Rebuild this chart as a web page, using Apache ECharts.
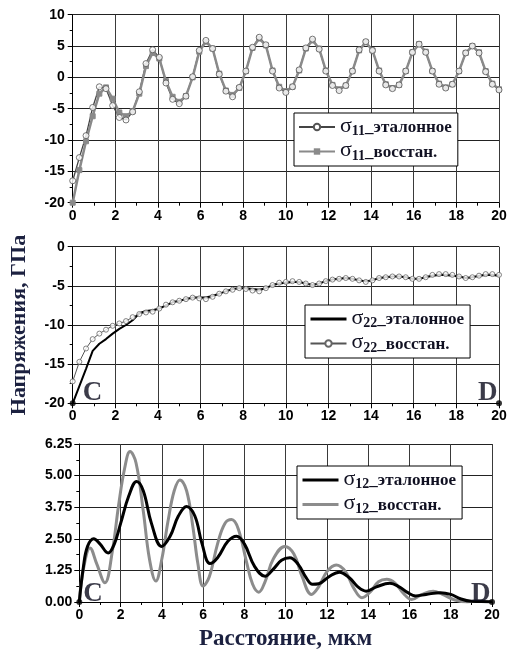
<!DOCTYPE html>
<html>
<head>
<meta charset="utf-8">
<script src="https://cdn.jsdelivr.net/npm/echarts@6/dist/echarts.min.js"></script>
<style>
  html, body { margin: 0; padding: 0; background: #fff; }
  #chart { width: 512px; height: 652px; }
</style>
</head>
<body>
<div id="chart"></div>
<script>
// координаты узлов (шаг 0.3125 мкм)
let xs = [0,0.3125,0.625,0.9375,1.25,1.5625,1.875,2.1875,2.5,2.8125,3.125,3.4375,3.75,4.0625,4.375,4.6875,
  5,5.3125,5.625,5.9375,6.25,6.5625,6.875,7.1875,7.5,7.8125,8.125,8.4375,8.75,9.0625,9.375,9.6875,
  10,10.3125,10.625,10.9375,11.25,11.5625,11.875,12.1875,12.5,12.8125,13.125,13.4375,13.75,14.0625,14.375,14.6875,
  15,15.3125,15.625,15.9375,16.25,16.5625,16.875,17.1875,17.5,17.8125,18.125,18.4375,18.75,19.0625,19.375,19.6875,20];

// σ11
let s11Ref = [-16.5,-12.8,-9.3,-4.8,-1.5,-1.8,-4.5,-6.4,-6.8,-5.5,-2.3,2.2,4.4,3.2,-0.9,-3.5,
  -4.2,-3.0,0.1,4.3,5.9,4.6,0.5,-2.2,-3.1,-1.6,1.0,4.8,6.4,5.2,1.0,-1.7,
  -2.4,-1.5,1.2,4.7,6.1,4.5,1.0,-1.3,-2.1,-1.3,1.0,4.4,5.7,4.3,1.0,-1.2,
  -1.8,-1.2,1.0,4.0,5.3,4.0,1.0,-1.1,-1.7,-1.1,1.0,3.9,5.0,3.9,0.9,-1.1,-2.0];
let s11Rec = [-20,-14.8,-10.2,-6.2,-2.6,-1.6,-3.4,-5.6,-6.2,-5.4,-2.6,1.8,3.9,3.0,-0.6,-3.1,
  -3.9,-3.0,0.0,4.1,5.7,4.6,0.6,-2.1,-2.8,-1.7,1.0,4.7,6.2,5.1,1.1,-1.5,
  -2.2,-1.5,1.1,4.6,5.9,4.6,1.1,-1.2,-1.9,-1.3,1.0,4.3,5.6,4.3,1.1,-1.1,
  -1.7,-1.2,1.0,4.0,5.3,4.1,1.0,-1.0,-1.6,-1.1,1.0,3.9,5.0,4.0,1.0,-1.0,-1.9];

// σ22
let s22Ref = [-20,-17.8,-15.6,-13.3,-12.4,-11.8,-11.1,-10.5,-10.0,-9.4,-8.5,-8.2,-8.1,-7.9,-7.5,-7.1,
  -6.9,-6.7,-6.5,-6.5,-6.5,-6.3,-6.0,-5.7,-5.4,-5.3,-5.3,-5.4,-5.5,-5.3,-4.9,-4.7,
  -4.6,-4.5,-4.5,-4.7,-4.9,-4.7,-4.4,-4.2,-4.1,-4.0,-4.1,-4.3,-4.4,-4.3,-4.0,-3.9,
  -3.8,-3.8,-3.9,-4.1,-4.1,-3.9,-3.7,-3.6,-3.6,-3.7,-3.8,-4.0,-3.9,-3.7,-3.6,-3.6,-3.7];
let s22Rec = [-17.2,-14.7,-13.0,-11.8,-11.1,-10.6,-10.1,-9.8,-9.5,-9.0,-8.6,-8.4,-8.3,-7.9,-7.4,-7.1,
  -6.9,-6.7,-6.5,-6.6,-6.7,-6.4,-6.0,-5.7,-5.5,-5.3,-5.4,-5.6,-5.7,-5.3,-4.9,-4.6,
  -4.5,-4.4,-4.5,-4.7,-4.9,-4.7,-4.4,-4.2,-4.1,-4.0,-4.1,-4.3,-4.5,-4.3,-4.0,-3.9,
  -3.8,-3.8,-3.9,-4.1,-4.1,-3.9,-3.6,-3.5,-3.5,-3.6,-3.8,-4.0,-3.9,-3.7,-3.5,-3.5,-3.6];

// σ12 (x, y)
let s12Ref = [[0,0],[0.2,1.4],[0.4,2.2],[0.7,2.5],[1.0,2.3],[1.4,1.94],[1.7,2.3],[2.0,3.1],[2.4,4.2],[2.78,4.77],
  [3.1,4.4],[3.5,3.1],[3.99,2.2],[4.4,2.6],[4.8,3.4],[5.2,3.78],[5.6,3.4],[5.95,2.3],[6.33,1.52],[6.7,1.75],
  [7.2,2.4],[7.62,2.6],[8.0,2.3],[8.5,1.4],[9.0,1.02],[9.4,1.3],[9.8,1.65],[10.2,1.75],[10.6,1.5],[11.0,0.95],
  [11.3,0.7],[11.6,0.72],[12.1,1.0],[12.6,1.18],[13.1,0.95],[13.5,0.6],[13.9,0.43],[14.4,0.6],[15.05,0.74],
  [15.5,0.6],[15.9,0.38],[16.3,0.24],[16.8,0.3],[17.5,0.37],[18.0,0.3],[18.5,0.12],[19.0,0.03],[19.5,0.02],[20,0]];
let s12Rec = [[0,0],[0.2,1.3],[0.52,2.14],[0.85,1.5],[1.24,0.76],[1.6,2.0],[1.9,3.8],[2.2,5.3],[2.46,5.95],[2.75,5.5],
  [3.1,3.6],[3.4,1.7],[3.71,0.83],[4.0,1.7],[4.3,3.2],[4.6,4.4],[4.88,4.83],[5.2,4.4],[5.5,3.0],[5.75,1.5],
  [6.0,0.63],[6.3,1.0],[6.7,2.3],[7.05,3.1],[7.38,3.26],[7.7,2.9],[8.1,1.6],[8.4,0.7],[8.7,0.39],[9.0,0.8],
  [9.4,1.7],[9.96,2.2],[10.4,1.9],[10.8,1.0],[11.25,0.3],[11.6,0.6],[12.0,1.2],[12.45,1.46],[12.9,1.2],[13.3,0.55],
  [13.7,0.17],[14.1,0.4],[14.5,0.8],[14.9,0.9],[15.3,0.75],[15.7,0.35],[16.1,0.1],[16.6,0.3],[17.15,0.43],
  [17.6,0.3],[18.2,0.08],[18.8,0.0],[19.3,0.05],[20,0]];

// точки C и D
let cdMid = [[0,-20,'C'],[20,-20,'D']];
let cdBot = [[0,0,'C'],[20,0,'D']];

let pairs = function(x, y) {
  return x.map(function(v, i) { return [v, y[i]]; });
}

let tickFont = { color: '#000', fontFamily: 'Liberation Sans, Arial', fontWeight: 'bold', fontSize: 14 };
let serif = 'Liberation Serif, Times New Roman, serif';
let titleColor = '#1c2140';
let noMark = { color: 'rgba(0,0,0,0)', borderColor: 'rgba(0,0,0,0)', borderWidth: 0 };

/** x ось */
let xAxis = function(idx, extra) {
  return Object.assign({
    gridIndex: idx, type: 'value', min: 0, max: 20, interval: 2,
    axisLine: { show: true, onZero: false, lineStyle: { color: '#000', width: 1 } },
    axisTick: { show: true, inside: false, length: 5, lineStyle: { color: '#000' } },
    minorTick: { show: true, splitNumber: 2, length: 3, lineStyle: { color: '#000' } },
    axisLabel: Object.assign({ margin: 6 }, tickFont),
    splitLine: { show: true, lineStyle: { color: '#3a3a3a', width: 1 } }
  }, extra || {});
}
/** y ось */
let yAxis = function(idx, min, max, step, extra) {
  return Object.assign({
    gridIndex: idx, type: 'value', min: min, max: max, interval: step,
    axisLine: { show: true, onZero: false, lineStyle: { color: '#000', width: 1 } },
    axisTick: { show: true, inside: false, length: 5, lineStyle: { color: '#000' } },
    minorTick: { show: true, splitNumber: 2, length: 3, lineStyle: { color: '#000' } },
    axisLabel: Object.assign({ margin: 8 }, tickFont),
    splitLine: { show: true, lineStyle: { color: '#222', width: 1 } }
  }, extra || {});
}
/** легенда */
let legend = function(names, left, top) {
  return {
    data: names, left: left, top: top, orient: 'vertical',
    backgroundColor: '#fff', borderColor: '#000', borderWidth: 1,
    padding: [2, 6, 3, 4], itemGap: 1, itemWidth: 36, itemHeight: 8,
    selectedMode: false,
    formatter: function(name) {
      let m = name.match(/^σ(\d+)(_.*)$/);
      return '{s|σ}{sub|' + m[1] + '}{t|' + m[2] + '}';
    },
    textStyle: {
      color: '#111122',
      rich: {
        s: { fontFamily: serif, fontSize: 22, color: '#111122', padding: [0, 0, 2, 0] },
        sub: { fontFamily: serif, fontWeight: 'bold', fontSize: 14, color: '#111122', padding: [9, 0, 0, 0] },
        t: { fontFamily: serif, fontWeight: 'bold', fontSize: 17, color: '#111122', padding: [2, 0, 0, 0] }
      }
    }
  }
}
/** точки C, D */
let cdSeries = function(idx, data, dxC, dxD, dy) {
  return {
    type: 'scatter', xAxisIndex: idx, yAxisIndex: idx, data: data,
    symbol: 'circle', symbolSize: 6, itemStyle: { color: '#000' }, z: 10,
    label: {
      show: true, fontFamily: serif, fontWeight: 'bold', fontSize: 27, color: '#0a0a1c',
      formatter: function(p) { return p.data[2]; }
    },
    labelLayout: function(params) {
      let c = params.rect;
      let isC = params.text === 'C';
      return {
        x: isC ? c.x + 3 + dxC : c.x + 3 + dxD,
        y: c.y + dy,
        align: 'left', verticalAlign: 'top'
      };
    }
  }
}
/** маркеры поверх линий */
let marks = function(idx, data, symbol, size, style) {
  return {
    type: 'scatter', xAxisIndex: idx, yAxisIndex: idx, data: data,
    symbol: symbol, symbolSize: size, itemStyle: style, z: 4, silent: true
  }
}

let chart = echarts.init(document.getElementById('chart'));
chart.setOption({
  backgroundColor: '#fff',
  animation: false,
  grid: [
    { left: 72.7, top: 14.7, width: 426.3, height: 188 },
    { left: 72.7, top: 246.7, width: 426.3, height: 156.6 },
    { left: 79.3, top: 444, width: 412.7, height: 158.7 }
  ],
  xAxis: [
    xAxis(0),
    xAxis(1),
    xAxis(2, {
      name: 'Расстояние, мкм', nameLocation: 'middle', nameGap: 26,
      nameTextStyle: { fontFamily: serif, fontWeight: 'bold', fontSize: 23, color: titleColor }
    })
  ],
  yAxis: [
    yAxis(0, -20, 10, 5),
    yAxis(1, -20, 0, 5, {
      name: 'Напряжения, ГПа', nameLocation: 'middle', nameGap: 42, nameRotate: 90,
      nameTextStyle: { fontFamily: serif, fontWeight: 'bold', fontSize: 22, color: titleColor }
    }),
    yAxis(2, 0, 6.25, 1.25, {
      axisLabel: Object.assign({ margin: 7, formatter: function(v) { return v.toFixed(2); } }, tickFont)
    })
  ],
  legend: [
    legend(['σ11_эталонное', 'σ11_восстан.'], 294, 113),
    legend([{ name: 'σ22_эталонное', itemStyle: noMark, lineStyle: { width: 3 } }, 'σ22_восстан.'], 305, 305),
    legend([
      { name: 'σ12_эталонное', itemStyle: noMark, lineStyle: { width: 3 } },
      { name: 'σ12_восстан.', itemStyle: noMark, lineStyle: { width: 3 } }
    ], 297, 466)
  ],
  series: [
    {
      name: 'σ11_эталонное', type: 'line', xAxisIndex: 0, yAxisIndex: 0, z: 2,
      data: pairs(xs, s11Ref),
      symbol: 'circle', symbolSize: 6, showSymbol: false,
      lineStyle: { color: '#444', width: 1.3 },
      itemStyle: { color: '#fff', borderColor: '#555', borderWidth: 1 }
    },
    {
      name: 'σ11_восстан.', type: 'line', xAxisIndex: 0, yAxisIndex: 0, z: 3,
      data: pairs(xs, s11Rec),
      symbol: 'rect', symbolSize: 5, showAllSymbol: true,
      lineStyle: { color: '#8a8a8a', width: 2.5 },
      itemStyle: { color: '#8a8a8a', borderColor: '#8a8a8a' }
    },
    marks(0, pairs(xs, s11Ref), 'circle', 6, { color: '#fff', borderColor: '#555', borderWidth: 1 }),
    {
      name: 'σ22_восстан.', type: 'line', xAxisIndex: 1, yAxisIndex: 1, z: 2,
      data: pairs(xs, s22Rec),
      symbol: 'circle', symbolSize: 6, showSymbol: false,
      lineStyle: { color: '#555', width: 1 },
      itemStyle: { color: '#fff', borderColor: '#666', borderWidth: 1 }
    },
    {
      name: 'σ22_эталонное', type: 'line', xAxisIndex: 1, yAxisIndex: 1, z: 3,
      data: pairs(xs, s22Ref),
      showSymbol: false, symbol: 'none',
      lineStyle: { color: '#000', width: 2 },
      itemStyle: { color: '#000' }
    },
    marks(1, pairs(xs, s22Rec), 'circle', 5, { color: '#fff', borderColor: '#666', borderWidth: 1 }),
    {
      name: 'σ12_восстан.', type: 'line', xAxisIndex: 2, yAxisIndex: 2,
      data: s12Rec, smooth: 0.4, symbol: 'none',
      lineStyle: { color: '#8c8c8c', width: 3 },
      itemStyle: { color: '#8c8c8c' }
    },
    {
      name: 'σ12_эталонное', type: 'line', xAxisIndex: 2, yAxisIndex: 2,
      data: s12Ref, smooth: 0.4, symbol: 'none',
      lineStyle: { color: '#000', width: 3 },
      itemStyle: { color: '#000' }
    },
    cdSeries(1, cdMid, 10, -21, -21),
    cdSeries(2, cdBot, 4, -21, -18)
  ]
});
</script>
</body>
</html>
